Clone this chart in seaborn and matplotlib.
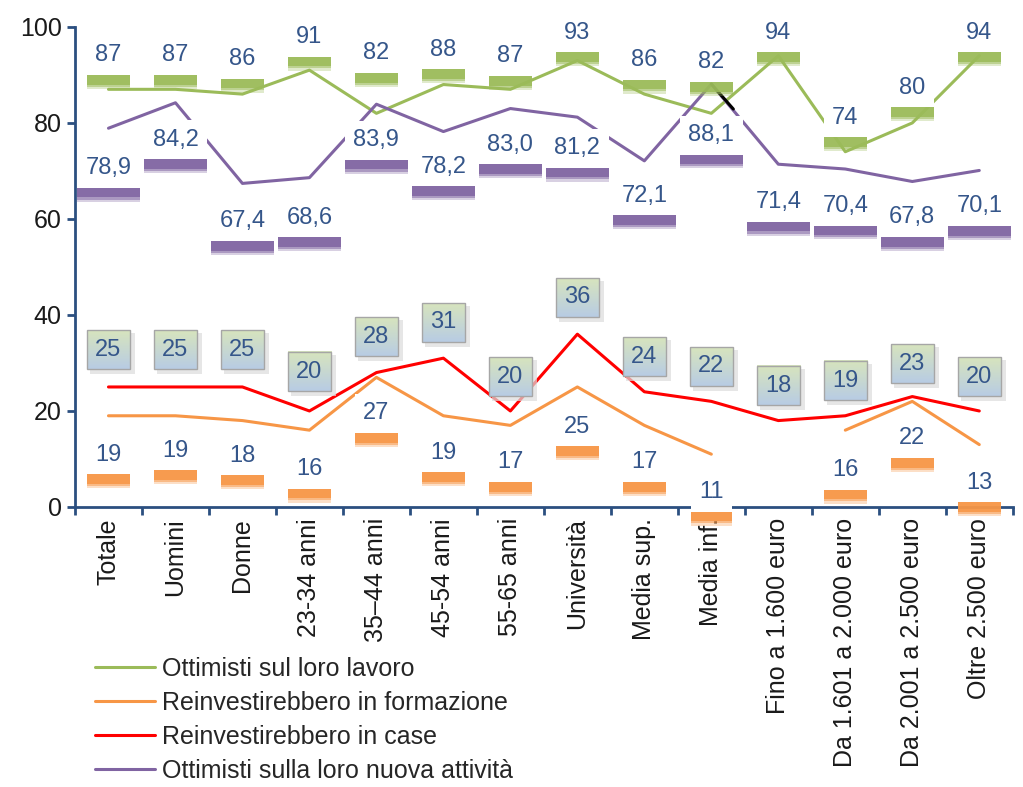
import numpy as np
import pandas as pd
import matplotlib
matplotlib.use("Agg")
import matplotlib.pyplot as plt
import matplotlib.patheffects as pe
from matplotlib.colors import LinearSegmentedColormap
from matplotlib.patches import Rectangle
import seaborn as sns

categories = ["Totale", "Uomini", "Donne", "23-34 anni", "35–44 anni", "45-54 anni",
              "55-65 anni", "Università", "Media sup.", "Media inf.",
              "Fino a 1.600 euro", "Da 1.601 a 2.000 euro", "Da 2.001 a 2.500 euro",
              "Oltre 2.500 euro"]

lavoro = [87, 87, 86, 91, 82, 88, 87, 93, 86, 82, 94, 74, 80, 94]
formazione = [19, 19, 18, 16, 27, 19, 17, 25, 17, 11, np.nan, 16, 22, 13]
case = [25, 25, 25, 20, 28, 31, 20, 36, 24, 22, 18, 19, 23, 20]
attivita = [78.9, 84.2, 67.4, 68.6, 83.9, 78.2, 83.0, 81.2, 72.1, 88.1, 71.4, 70.4, 67.8, 70.1]

series_names = ["Ottimisti sul loro lavoro", "Reinvestirebbero in formazione",
                "Reinvestirebbero in case", "Ottimisti sulla loro nuova attività"]
series_values = [lavoro, formazione, case, attivita]
colors = ["#9bbb59", "#f79646", "#ff0000", "#8064a2"]

# label offsets (pixels, from the point) - mostly constant, a few moved by hand
label_dy = [
    [34, 34, 35, 33, 60, 35, 33, 28, 34, 51, 23, 34, 35, 23],
    [-39, -35, -35, -39, -36, -37, -37, -40, -37, -38, 0, -40, -37, -38],
    [37, 37, 37, 39, 36, 36, 34, 37, 35, 35, 35, 35, 33, 34],
    [-40, -37, -38, -40, -36, -35, -36, -31, -35, -51, -38, -37, -36, -36],
]

rows = []
for name, vals in zip(series_names, series_values):
    seg = 0
    for i, v in enumerate(vals):
        if pd.isna(v):
            seg += 1
            continue
        rows.append({"x": i, "value": v, "serie": name, "seg": seg})
df = pd.DataFrame(rows)

sns.set_style("white")
plt.rcParams["font.family"] = ["Liberation Sans", "DejaVu Sans"]

fig = plt.figure(figsize=(10.23, 7.87), dpi=100)
ax = fig.add_axes([0.0733, 0.3558, 0.9167, 0.61])

sns.lineplot(data=df, x="x", y="value", hue="serie", units="seg", estimator=None,
             hue_order=series_names, palette=colors, linewidth=2.2, ax=ax, legend=True)

ax.set_xlim(-0.5, len(categories) - 0.5)
ax.set_ylim(0, 100)
ax.set_yticks(range(0, 101, 20))
ax.tick_params(axis="y", labelsize=18, length=6, width=2, color="#2b4f80", direction="out",
               left=True, labelcolor="#1a1a1a")
ax.set_xticks(np.arange(len(categories) + 1) - 0.5)
ax.set_xticklabels([])
ax.set_xticks(np.arange(len(categories)), minor=True)
ax.set_xticklabels(categories, minor=True, rotation=90, fontsize=18, color="#1a1a1a")
ax.tick_params(axis="x", which="major", length=6, width=2, color="#2b4f80", bottom=True)
ax.tick_params(axis="x", which="minor", length=0, pad=8)
ax.set_xlabel("")
ax.set_ylabel("")
for s in ["top", "right"]:
    ax.spines[s].set_visible(False)
for s in ["left", "bottom"]:
    ax.spines[s].set_color("#2b4f80")
    ax.spines[s].set_linewidth(2)

# stray leader line near the "88,1" point
ax.annotate("", xy=(9, attivita[9]), xytext=(22, -25), textcoords="offset pixels",
            arrowprops=dict(arrowstyle="-", color="black", lw=2.2, shrinkA=0, shrinkB=0),
            zorder=3)

text_color = "#35568a"
case_labels = []
for k, (vals, dys) in enumerate(zip(series_values, label_dy)):
    for i, v in enumerate(vals):
        if pd.isna(v):
            continue
        txt = f"{v:.1f}".replace(".", ",") if k == 3 else f"{v:.0f}"
        if k == 2:
            a = ax.annotate(txt, (i, v), xytext=(0, dys[i]), textcoords="offset pixels",
                            ha="center", va="center", fontsize=17, color=text_color,
                            bbox=dict(boxstyle="square,pad=0.36", fc="none", ec="#a6a6a6", lw=1),
                            zorder=6)
            case_labels.append(a)
        else:
            a = ax.annotate(txt, (i, v), xytext=(0, dys[i]), textcoords="offset pixels",
                            ha="center", va="center", fontsize=17, color=text_color,
                            bbox=dict(boxstyle="square,pad=0.36", fc="white", ec="none"),
                            zorder=6)
            a.get_bbox_patch().set_path_effects([
                pe.SimplePatchShadow(offset=(0, -10), shadow_rgbFace=colors[k], alpha=0.3),
                pe.SimplePatchShadow(offset=(0, -8.5), shadow_rgbFace=colors[k], alpha=0.5),
                pe.SimplePatchShadow(offset=(0, -7), shadow_rgbFace=colors[k], alpha=0.85),
                pe.Normal()])

handles, labels = ax.get_legend_handles_labels()
ax.legend(handles, labels, loc="upper left", bbox_to_anchor=(0.083, 0.178),
          bbox_transform=fig.transFigure, frameon=False, fontsize=18,
          handlelength=2.4, labelspacing=0.4, handletextpad=0.3, borderaxespad=0)

# green-to-blue gradient behind the "case" labels
fig.canvas.draw()
grad = LinearSegmentedColormap.from_list("gb", ["#b8cce4", "#d7e4bd"])
inv = ax.transData.inverted()
for a in case_labels:
    ext = a.get_bbox_patch().get_window_extent()
    (x0, y0), (x1, y1) = inv.transform([[ext.x0, ext.y0], [ext.x1, ext.y1]])
    ax.imshow(np.linspace(0, 1, 50).reshape(-1, 1), cmap=grad, origin="lower",
              extent=[x0, x1, y0, y1], aspect="auto", zorder=5)
    (sx0, sy0), (sx1, sy1) = inv.transform([[ext.x0 + 3, ext.y0 - 5], [ext.x1 + 5, ext.y1 - 3]])
    ax.add_patch(Rectangle((sx0, sy0), sx1 - sx0, sy1 - sy0, fc="#dcdcdc", ec="none",
                           alpha=0.7, zorder=4.8))
ax.set_xlim(-0.5, len(categories) - 0.5)
ax.set_ylim(0, 100)

fig.savefig("out.png", dpi=100)
